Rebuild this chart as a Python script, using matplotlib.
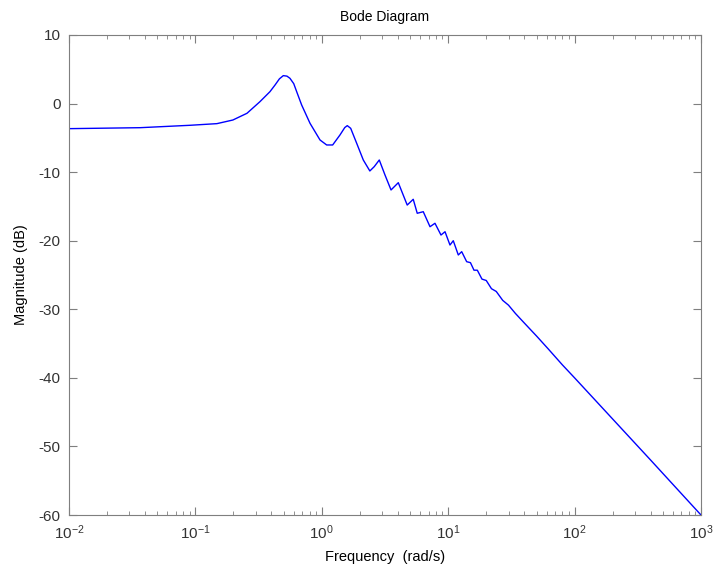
import numpy as np
import matplotlib.pyplot as plt
from matplotlib.ticker import LogLocator, NullFormatter

plt.rcParams['font.family'] = ['Liberation Sans', 'DejaVu Sans']
plt.rcParams['mathtext.fontset'] = 'custom'
plt.rcParams['mathtext.rm'] = 'Liberation Sans'
plt.rcParams['axes.unicode_minus'] = False

# frequency (rad/s) and magnitude (dB)
freq = [0.01, 0.0365, 0.0906, 0.148, 0.198, 0.256, 0.324, 0.389, 0.427, 0.462,
        0.496, 0.530, 0.560, 0.600, 0.633, 0.693, 0.807, 0.968, 1.093, 1.219,
        1.393, 1.520, 1.591, 1.693, 1.888, 2.13, 2.40, 2.60, 2.85, 3.16,
        3.53, 4.03, 4.74, 5.29, 5.69, 6.35, 7.18, 7.86, 8.77, 9.44,
        10.33, 10.97, 12.02, 12.79, 14.0, 15.0, 16.0, 17.0, 18.5, 20.0,
        22.0, 24.0, 27.0, 30.0, 34.0, 40.0, 50.0, 62.0, 80.0, 100.0,
        200.0, 400.0, 1000.0]
mag = [-3.66, -3.52, -3.17, -2.93, -2.40, -1.42, 0.27, 1.73, 2.71, 3.60,
       4.07, 4.00, 3.68, 2.90, 1.73, -0.21, -2.88, -5.31, -6.04, -6.04,
       -4.58, -3.50, -3.22, -3.61, -5.79, -8.23, -9.83, -9.20, -8.23, -10.4,
       -12.6, -11.54, -14.8, -13.96, -16.0, -15.77, -17.96, -17.46, -19.17, -18.69,
       -20.63, -20.0, -22.08, -21.6, -23.06, -23.2, -24.3, -24.3, -25.6, -25.8,
       -27.0, -27.4, -28.7, -29.4, -30.6, -32.0, -33.9, -35.8, -38.1, -40.0,
       -46.0, -52.0, -60.0]

fig = plt.figure(figsize=(7.14, 5.79), dpi=100)
ax = fig.add_axes([0.0966, 0.1105, 0.8852, 0.8291])
ax.semilogx(freq, mag, color='#0000ff', linewidth=1.0)

ax.set_xlim(1e-2, 1e3)
ax.set_ylim(-60, 10)
ax.set_yticks(np.arange(-60, 11, 10))
ax.xaxis.set_major_locator(LogLocator(base=10, numticks=10))
ax.xaxis.set_minor_locator(LogLocator(base=10, subs=np.arange(2, 10), numticks=20))
ax.xaxis.set_minor_formatter(NullFormatter())

gray = '#7f7f7f'
for s in ax.spines.values():
    s.set_color(gray)
ax.tick_params(which='both', direction='in', top=True, right=True, color=gray,
               labelcolor='#333333', labelsize=11)
ax.tick_params(which='major', length=6, pad=6)
ax.tick_params(which='minor', length=3)

ax.set_title('Bode Diagram', fontsize=10, pad=10)
ax.set_xlabel('Frequency  (rad/s)', fontsize=10.5, labelpad=6)
ax.set_ylabel('Magnitude (dB)', fontsize=10.5, labelpad=8)

fig.savefig('out.png', dpi=100)
